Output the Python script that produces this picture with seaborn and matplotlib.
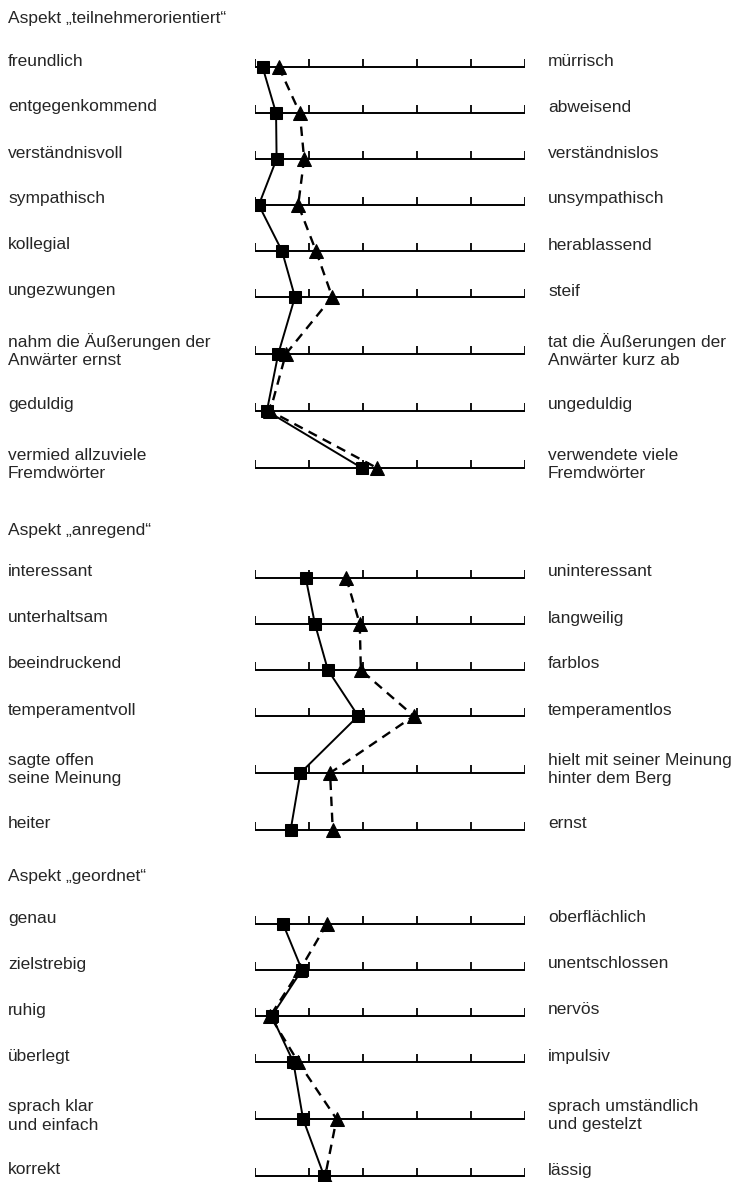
import pandas as pd
import matplotlib.pyplot as plt
import matplotlib.transforms as mtransforms
import seaborn as sns

# --- data -------------------------------------------------------------
titles = ["Aspekt \u201eteilnehmerorientiert\u201c",
          "Aspekt \u201eanregend\u201c",
          "Aspekt \u201egeordnet\u201c"]

sec1_left = ["freundlich", "entgegenkommend", "verständnisvoll", "sympathisch",
             "kollegial", "ungezwungen", "nahm die Äußerungen der\nAnwärter ernst",
             "geduldig", "vermied allzuviele\nFremdwörter"]
sec1_right = ["mürrisch", "abweisend", "verständnislos", "unsympathisch",
              "herablassend", "steif", "tat die Äußerungen der\nAnwärter kurz ab",
              "ungeduldig", "verwendete viele\nFremdwörter"]
sec1_sq = [1.14, 1.39, 1.40, 1.07, 1.50, 1.74, 1.43, 1.22, 2.98]
sec1_tri = [1.44, 1.83, 1.91, 1.80, 2.13, 2.43, 1.57, 1.28, 3.26]

sec2_left = ["interessant", "unterhaltsam", "beeindruckend", "temperamentvoll",
             "sagte offen\nseine Meinung", "heiter"]
sec2_right = ["uninteressant", "langweilig", "farblos", "temperamentlos",
              "hielt mit seiner Meinung\nhinter dem Berg", "ernst"]
sec2_sq = [1.94, 2.11, 2.35, 2.91, 1.84, 1.66]
sec2_tri = [2.69, 2.94, 2.96, 3.94, 2.39, 2.44]

sec3_left = ["genau", "zielstrebig", "ruhig", "überlegt",
             "sprach klar\nund einfach", "korrekt"]
sec3_right = ["oberflächlich", "unentschlossen", "nervös", "impulsiv",
              "sprach umständlich\nund gestelzt", "lässig"]
sec3_sq = [1.52, 1.87, 1.31, 1.71, 1.89, 2.28]
sec3_tri = [2.33, 1.83, 1.28, 1.80, 2.51, 2.30]

scale_ticks = [1, 2, 3, 4, 5, 6]

sections = [
    (sec1_left, sec1_right, sec1_sq, sec1_tri),
    (sec2_left, sec2_right, sec2_sq, sec2_tri),
    (sec3_left, sec3_right, sec3_sq, sec3_tri),
]

# --- layout (pixel rows, top = 0) ------------------------------------
W, H = 737, 1182
title_y = [19, 530, 876]
first_gap, step, extra = 48, 46, 11

rows = []
for s, (left, right, sq, tri) in enumerate(sections):
    y = title_y[s] + first_gap
    for i in range(len(left)):
        if i > 0:
            two = ("\n" in left[i]) or ("\n" in left[i - 1])
            y += step + (extra if two else 0)
        rows.append(dict(section=s, y=y, left=left[i], right=right[i],
                         sq=sq[i], tri=tri[i]))
df = pd.DataFrame(rows)

# --- plot -------------------------------------------------------------
sns.set_style("white")
plt.rcParams["font.family"] = ["Liberation Sans", "DejaVu Sans"]

fig = plt.figure(figsize=(W / 100, H / 100), dpi=100)
ax = fig.add_axes([255 / W, 0, 270 / W, 1])

# scale lines with upward ticks
ax.hlines(df["y"], 1, 6, color="black", lw=1.4, zorder=1)
for t in scale_ticks:
    ax.vlines([t] * len(df), df["y"] - 8, df["y"], color="black", lw=1.3, zorder=1)

sns.lineplot(data=df, x="sq", y="y", units="section", estimator=None, sort=False,
             color="black", lw=1.4, marker="s", markersize=8, mec="black",
             ax=ax, zorder=3, legend=False)
sns.lineplot(data=df, x="tri", y="y", units="section", estimator=None, sort=False,
             color="black", lw=1.7, linestyle=(0, (4, 2.8)), marker="^",
             markersize=9.5, mec="black", ax=ax, zorder=3, legend=False)
ax.set_xlim(1, 6)
ax.set_ylim(H, 0)
ax.axis("off")

trans = mtransforms.blended_transform_factory(fig.transFigure, ax.transData)
fs = 12.5
for t, ty in zip(titles, title_y):
    ax.text(8 / W, ty, t, transform=trans, fontsize=fs, va="center", ha="left")
for _, r in df.iterrows():
    off = 3 if "\n" in r["left"] else 6
    ax.text(8 / W, r["y"] - off, r["left"], transform=trans, fontsize=fs,
            va="center", ha="left", linespacing=1.25)
    off = 3 if "\n" in r["right"] else 6
    ax.text(548 / W, r["y"] - off, r["right"], transform=trans, fontsize=fs,
            va="center", ha="left", linespacing=1.25)

fig.savefig("out.png", dpi=100)
